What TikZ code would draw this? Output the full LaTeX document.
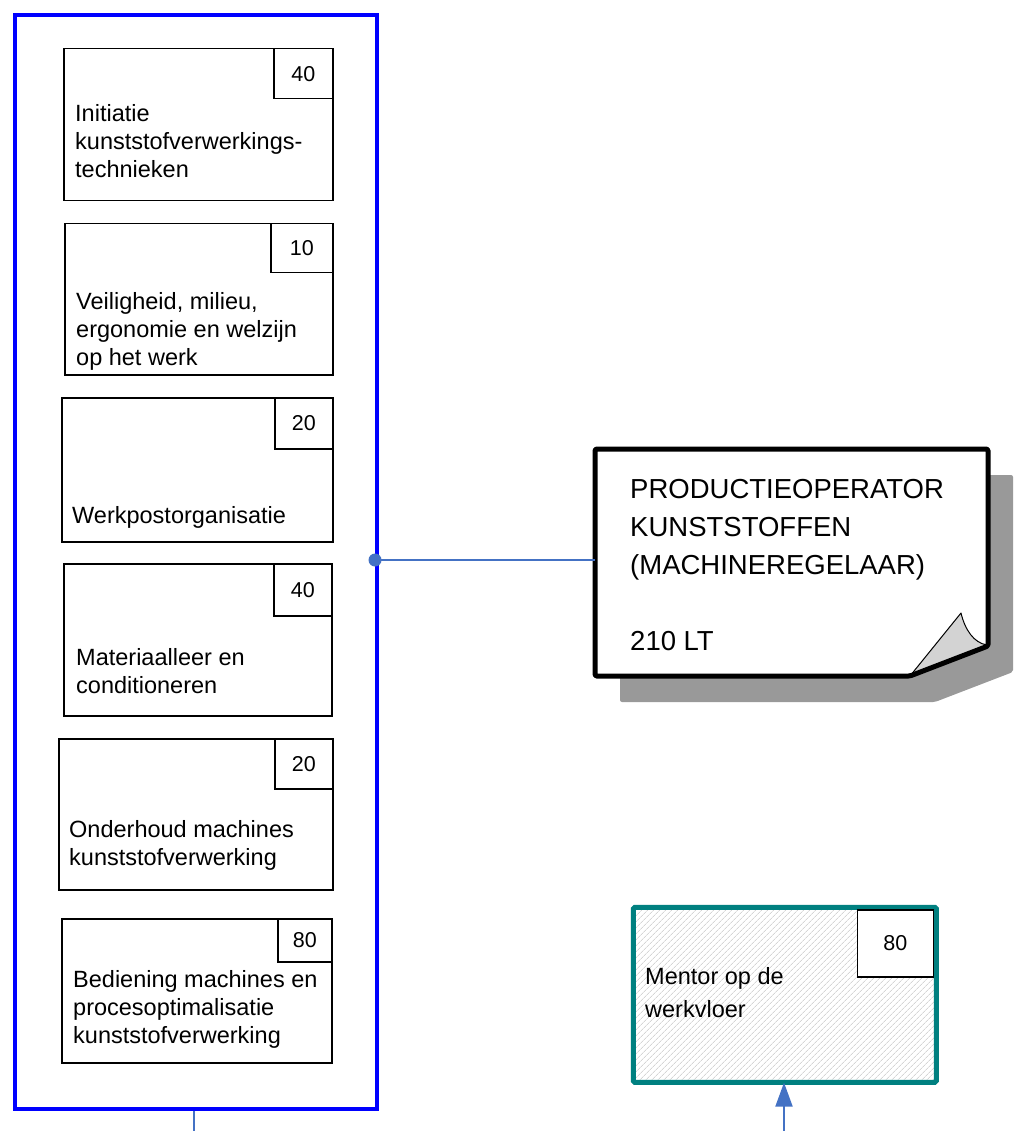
\documentclass[tikz,border=0pt]{standalone}
\usepackage{fontspec}
\setmainfont{Liberation Sans}
\usetikzlibrary{arrows.meta,patterns.meta}
\definecolor{conn}{HTML}{4472C4}
\definecolor{teal2}{HTML}{008080}
\definecolor{shadowgray}{HTML}{999999}
\definecolor{curlgray}{HTML}{D3D3D3}
\tikzset{
  grpbox/.style={draw=blue, line width=4pt, anchor=north west, inner sep=0pt},
  modbox/.style={draw=black, line width=1.5pt, anchor=north west, inner sep=0pt},
  numbox/.style={draw=black, fill=white, line width=1.5pt, anchor=north east, inner sep=0pt,
     font=\fontsize{21.5}{25}\selectfont},
  modtext/.style={anchor=base west, align=left, inner sep=0pt, font=\fontsize{23.5}{28}\selectfont},
  conline/.style={draw=conn, line width=2pt},
}
\begin{document}
\begin{tikzpicture}[x=1pt,y=-1pt]
\useasboundingbox (0,0) rectangle (1019,1131);
% group box
\node[grpbox, minimum width=362pt, minimum height=1094pt] (grp) at (13,13) {};
% modules (text anchored at baseline of last line)
\node[modbox, minimum width=269pt, minimum height=152pt] (m1) at (63,48) {};
\node[numbox, minimum width=59pt, minimum height=50pt] (n1) at (m1.north east) {40};
\node[modtext] (t1) at (75,178) {Initiatie\\kunststofverwerkings-\\technieken};

\node[modbox, minimum width=268pt, minimum height=151pt] (m2) at (64,223) {};
\node[numbox, minimum width=62pt, minimum height=49pt] (n2) at (m2.north east) {10};
\node[modtext] (t2) at (76,365) {Veiligheid, milieu,\\ergonomie en welzijn\\op het werk};

\node[modbox, minimum width=271pt, minimum height=144pt] (m3) at (61,397) {};
\node[numbox, minimum width=58pt, minimum height=51pt] (n3) at (m3.north east) {20};
\node[modtext] (t3) at (72,523) {Werkpostorganisatie};

\node[modbox, minimum width=268pt, minimum height=152pt] (m4) at (63,563) {};
\node[numbox, minimum width=58pt, minimum height=52pt] (n4) at (m4.north east) {40};
\node[modtext] (t4) at (76,693) {Materiaalleer en\\conditioneren};

\node[modbox, minimum width=274pt, minimum height=151pt] (m5) at (58,738) {};
\node[numbox, minimum width=58pt, minimum height=50pt] (n5) at (m5.north east) {20};
\node[modtext] (t5) at (69,865) {Onderhoud machines\\kunststofverwerking};

\node[modbox, minimum width=270pt, minimum height=144pt] (m6) at (61,918) {};
\node[numbox, minimum width=54pt, minimum height=43pt] (n6) at (m6.north east) {80};
\node[modtext] (t6) at (73,1043) {Bediening machines en\\procesoptimalisatie\\kunststofverwerking};

% page (product) with shadow and curl
\fill[shadowgray, rounded corners=2pt] (620,475) -- (1013,475) -- (1013,672) -- (935,702) -- (620,702) -- cycle;
\node[inner sep=0pt, minimum width=393pt, minimum height=227pt, anchor=north west] (page) at (595,449) {};
\fill[white] (595,449) -- (988,449) -- (988,646) -- (910,676) -- (595,676) -- cycle;
\filldraw[fill=curlgray, draw=black, line width=1pt, line join=round]
  (910,676) -- (961,613) .. controls (965,630) and (974,643) .. (987,645) -- cycle;
\draw[black, line width=5pt, line join=round, rounded corners=1.5pt]
  (595,449) -- (988,449) -- (988,646) -- (910,676) -- (595,676) -- cycle;
\node[anchor=base west, align=left, inner sep=0pt, font=\fontsize{27.5}{38}\selectfont] (ptext) at (630,650)
  {PRODUCTIEOPERATOR\\KUNSTSTOFFEN\\(MACHINEREGELAAR)\\[38pt]210 LT};

% connector group -> page
\coordinate (dot) at (375,560);
\draw[conline] (dot) -- (page.west |- dot);
\fill[conn] (dot) circle (6.5pt);

% line from group bottom
\coordinate (gbot) at (194,1131);
\draw[conline] (grp.south -| gbot) -- (gbot);

% mentor box
\node[draw=teal2, line width=5pt, rounded corners=1.5pt, anchor=north west, inner sep=0pt,
  minimum width=303pt, minimum height=175pt,
  preaction={fill=white},
  pattern={Lines[angle=45,distance=4pt,line width=0.6pt]}, pattern color=black!25] (ment) at (633,907) {};
\node[numbox, minimum width=76pt, minimum height=67pt] (mn) at (934,909) {80};
\node[anchor=base west, align=left, inner sep=0pt, font=\fontsize{23.5}{33}\selectfont] (mtext) at (645,1017)
  {Mentor op de\\werkvloer};

% arrow into mentor box
\coordinate (abot) at (784,1131);
\draw[conline, -{Triangle[width=17pt,length=24pt]}] (abot) -- (ment.south -| abot);
\end{tikzpicture}
\end{document}
